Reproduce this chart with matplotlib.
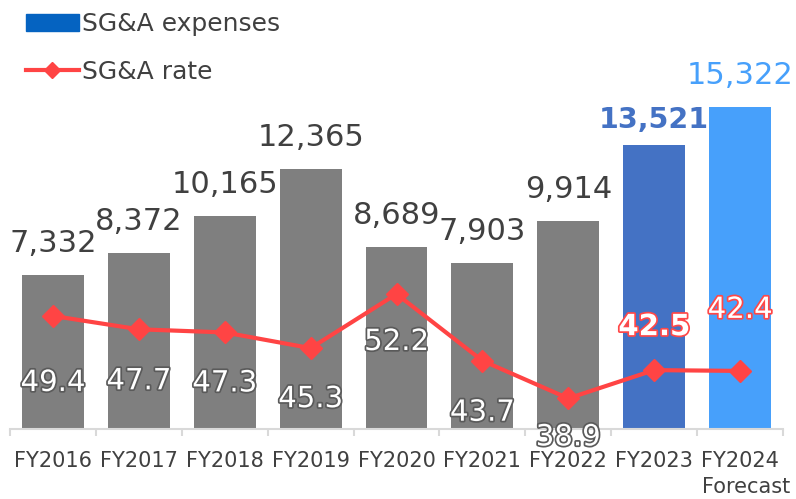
import matplotlib
matplotlib.use("Agg")
import matplotlib.pyplot as plt
import matplotlib.patheffects as pe
from matplotlib.patches import Patch
from matplotlib.lines import Line2D

plt.rcParams['font.family'] = ['DejaVu Sans']

# data
years = ["FY2016", "FY2017", "FY2018", "FY2019", "FY2020",
         "FY2021", "FY2022", "FY2023", "FY2024"]
expenses = [7332, 8372, 10165, 12365, 8689, 7903, 9914, 13521, 15322]
rate = [49.4, 47.7, 47.3, 45.3, 52.2, 43.7, 38.9, 42.5, 42.4]

# styling
bar_colors = ["#7f7f7f"] * 7 + ["#4472c4", "#47a0fb"]
label_colors = ["#404040"] * 7 + ["#4472c4", "#47a0fb"]
label_weights = ["normal"] * 7 + ["bold", "normal"]
label_sizes = [22] * 7 + [20.5, 22]
label_dy = [23] * 7 + [17, 23]
rate_dy = [-67, -52, -51, -51, -48, -52, -39, 43, 61]
rate_glow = ["#5a5a5a"] * 7 + ["#ff4848", "#ff4848"]
rate_weights = ["normal"] * 7 + ["bold", "normal"]
red = "#ff4444"
txt = "#404040"

W, H = 796, 499
fig = plt.figure(figsize=(W / 100, H / 100), dpi=100)
ax = fig.add_axes([10 / W, 70 / H, 773 / W, 420 / H])
x = list(range(len(years)))

ax.bar(x, expenses, width=0.72, color=bar_colors, zorder=2)
ax.set_xlim(-0.5, len(years) - 0.5)
ax.set_ylim(0, 20000)
for s in ["top", "right", "left"]:
    ax.spines[s].set_visible(False)
ax.spines["bottom"].set_color("#d9d9d9")
ax.spines["bottom"].set_linewidth(1.5)
ax.set_yticks([])
ax.set_xticks(x)
ax.set_xticklabels(years, fontsize=15, color=txt)
ax.tick_params(axis="x", which="major", length=0, pad=16)
ax.set_xticks([i - 0.5 for i in range(len(years) + 1)], minor=True)
ax.tick_params(axis="x", which="minor", length=5, color="#d9d9d9", width=1.5)

for i, v in enumerate(expenses):
    ax.annotate(f"{v:,}", (i, v), xytext=(0, label_dy[i]), textcoords="offset pixels",
                ha="center", va="baseline", fontsize=label_sizes[i], color=label_colors[i],
                fontweight=label_weights[i])

ax2 = ax.twinx()
ax2.set_ylim(35, 88.5)
ax2.axis("off")
ax2.plot(x, rate, color=red, lw=3, marker="D", ms=11, zorder=3)
for i, v in enumerate(rate):
    ax2.annotate(f"{v}", (i, v), xytext=(0, rate_dy[i]), textcoords="offset pixels",
                 ha="center", va="center", fontsize=21, color="white",
                 fontweight=rate_weights[i],
                 path_effects=[pe.withStroke(linewidth=2.5, foreground=rate_glow[i])])

fig.text(790 / W, 1 - 487 / H, "Forecast", ha="right", va="center", fontsize=15, color=txt)

handles = [Patch(color="#0563c1"),
           Line2D([], [], color=red, lw=3, marker="D", ms=8)]
fig.legend(handles, ["SG&A expenses", "SG&A rate"], loc="upper left",
           bbox_to_anchor=(16 / W, 1 - 2 / H), frameon=False, fontsize=18,
           labelcolor=txt, handlelength=2.1, handleheight=0.7, handletextpad=0.15,
           labelspacing=0.95, borderaxespad=0)

fig.savefig("out.png", dpi=100)
